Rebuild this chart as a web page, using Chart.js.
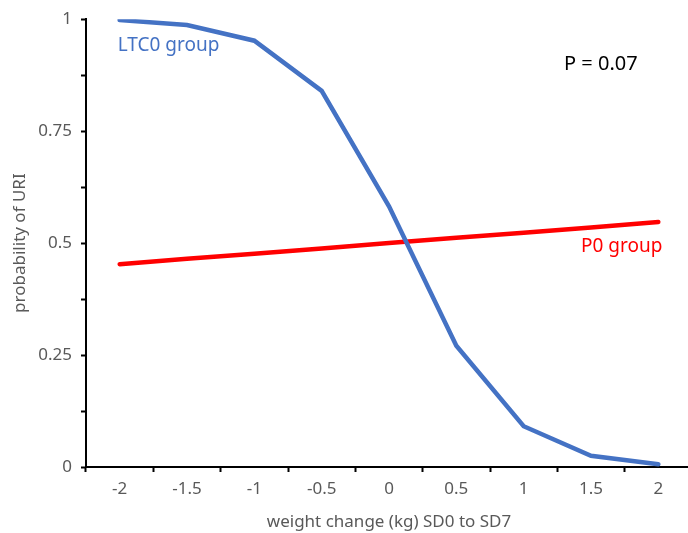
<!DOCTYPE html>
<html>
<head>
<meta charset="utf-8">
<script src="https://cdn.jsdelivr.net/npm/chart.js@4/dist/chart.umd.min.js"></script>
<style>
  html, body { margin: 0; padding: 0; background: #fff; overflow: hidden; }
  #wrap { width: 688px; height: 533px; overflow: hidden; }
</style>
</head>
<body>
<div id="wrap"><canvas id="chart-uri" width="692" height="533"></canvas></div>
<script>
// weight change categories (kg), SD0 to SD7
var weightChange = ['-2', '-1.5', '-1', '-0.5', '0', '0.5', '1', '1.5', '2'];
// probability of URI per group
var ltc0Group = [0.998, 0.987, 0.952, 0.840, 0.582, 0.271, 0.091, 0.025, 0.006];
var p0Group = [0.453, 0.465, 0.476, 0.488, 0.500, 0.512, 0.523, 0.535, 0.547];
var yTickLabels = ['0', '0.25', '0.5', '0.75', '1'];

var FONT = "'Noto Sans', 'Open Sans', sans-serif";
var GREY = '#595959';

// text labels placed inside the plot
var notes = {
  id: 'notes',
  afterDatasetsDraw: function(chart) {
    var ctx = chart.ctx;
    var xs = chart.scales.x, ys = chart.scales.y;
    ctx.save();
    ctx.textBaseline = 'middle';

    ctx.font = '19px ' + FONT;
    ctx.fillStyle = '#4472C4';
    ctx.textAlign = 'left';
    ctx.fillText('LTC0 group', xs.getPixelForValue(0) - 2, ys.getPixelForValue(0.94));

    ctx.font = '20px ' + FONT;
    ctx.fillStyle = '#000';
    ctx.fillText('P = 0.07', xs.getPixelForValue(6.6), ys.getPixelForValue(0.9));

    ctx.font = '19px ' + FONT;
    ctx.fillStyle = '#FF0000';
    ctx.textAlign = 'right';
    ctx.fillText('P0 group', xs.getPixelForValue(8) + 4, ys.getPixelForValue(0.493));
    ctx.restore();
  }
};

var chartUri = new Chart(document.getElementById('chart-uri'), {
  type: 'line',
  data: {
    labels: weightChange,
    datasets: [{
      label: 'LTC0 group',
      data: ltc0Group,
      borderColor: '#4472C4',
      borderWidth: 4.5,
      pointRadius: 0,
      tension: 0,
      borderCapStyle: 'round'
    }, {
      label: 'P0 group',
      data: p0Group,
      borderColor: '#FF0000',
      borderWidth: 4.5,
      pointRadius: 0,
      tension: 0,
      borderCapStyle: 'round'
    }]
  },
  options: {
    responsive: false,
    animation: false,
    layout: { padding: { top: 17, right: 0, left: 0, bottom: 0 } },
    plugins: { legend: { display: false }, tooltip: { enabled: false } },
    scales: {
      x: {
        type: 'category',
        offset: true,
        border: { color: '#000', width: 2 },
        grid: { offset: true, drawOnChartArea: false, tickLength: 5, tickColor: '#000', tickWidth: 2 },
        ticks: { color: GREY, font: { family: FONT, size: 17 }, padding: 7, maxRotation: 0 },
        title: {
          display: true, text: 'weight change (kg) SD0 to SD7', color: GREY,
          font: { family: FONT, size: 17 }, padding: { top: 0, bottom: 1 }
        },
        afterFit: function(scale) { scale.height = 66; }
      },
      y: {
        min: 0, max: 1,
        border: { color: '#000', width: 2 },
        grid: { drawOnChartArea: false, tickLength: 5, tickColor: '#000', tickWidth: 2 },
        ticks: {
          stepSize: 0.125,
          color: GREY, font: { family: FONT, size: 17 }, padding: 9,
          callback: function(v) {
            var i = Math.round(v / 0.25);
            return Math.abs(v - i * 0.25) < 1e-6 ? yTickLabels[i] : '';
          }
        },
        title: {
          display: true, text: 'probability of URI', color: GREY,
          font: { family: FONT, size: 17 }, padding: { top: 10, bottom: 0 }
        },
        afterFit: function(scale) { scale.width = 86; }
      }
    }
  },
  plugins: [notes]
});
</script>
</body>
</html>
